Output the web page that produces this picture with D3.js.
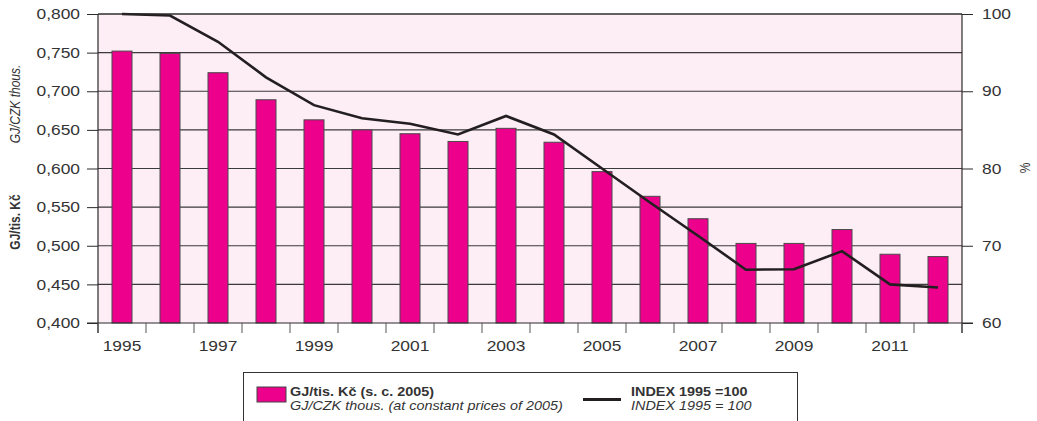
<!DOCTYPE html>
<html>
<head>
<meta charset="utf-8">
<script src="https://cdn.jsdelivr.net/npm/d3@7"></script>
<style>
  body { margin: 0; background: #fff; }
  svg { display: block; font-family: "Liberation Sans", Arial, sans-serif; }
</style>
</head>
<body>
<svg width="1037" height="421"></svg>
<script>
// data
var years = d3.range(1995, 2013);
var gjPerThous = [0.752, 0.749, 0.724, 0.689, 0.663, 0.650, 0.645, 0.635, 0.652,
                  0.634, 0.596, 0.564, 0.535, 0.503, 0.503, 0.521, 0.489, 0.486];
var index1995 = [100, 99.8, 96.4, 91.8, 88.2, 86.5, 85.8, 84.4, 86.8,
                 84.4, 80.0, 75.6, 71.3, 66.9, 66.95, 69.3, 65.0, 64.6];
var leftTicks = d3.range(0.4, 0.8001, 0.05);
var rightTicks = [60, 70, 80, 90, 100];

var pink = "#ec008c", bg = "#fdedf4", dark = "#2b2b2b", txt = "#333";
var sx = 1.2; // the picture is stretched sideways

var pLeft = 98, pRight = 962, pTop = 14, pBottom = 323;
var svg = d3.select("svg");

var x = d3.scaleBand().domain(years).range([pLeft, pRight]);
var y = d3.scaleLinear().domain([0.4, 0.8]).range([pBottom, pTop]);
var y2 = d3.scaleLinear().domain([60, 100]).range([pBottom, pTop]);

function stretch(sel) {
    sel.attr("transform", function () {
        var tx = +this.getAttribute("x") || 0;
        return "translate(" + tx + ",0) scale(" + sx + ",1)";
    }).attr("x", 0);
}

svg.append("rect")
    .attr("x", pLeft).attr("y", pTop)
    .attr("width", pRight - pLeft).attr("height", pBottom - pTop)
    .attr("fill", bg);

// gridlines
svg.append("g").selectAll("line")
    .data(leftTicks.slice(1))
    .enter().append("line")
    .attr("x1", pLeft).attr("x2", pRight)
    .attr("y1", function (d) { return y(d); })
    .attr("y2", function (d) { return y(d); })
    .attr("stroke", "#3a3a3a").attr("stroke-width", 1.2);

// bars
var bw = 20;
svg.append("g").selectAll("rect")
    .data(gjPerThous)
    .enter().append("rect")
    .attr("x", function (d, i) { return x(years[i]) + x.bandwidth() / 2 - bw / 2; })
    .attr("y", function (d) { return y(d); })
    .attr("width", bw)
    .attr("height", function (d) { return pBottom - y(d); })
    .attr("fill", pink)
    .attr("stroke", "#4a4a4a").attr("stroke-width", 1);

// index line
var line = d3.line()
    .x(function (d, i) { return x(years[i]) + x.bandwidth() / 2; })
    .y(function (d) { return y2(d); });
svg.append("path")
    .datum(index1995)
    .attr("fill", "none")
    .attr("stroke", "#231f20")
    .attr("stroke-width", 2.6)
    .attr("d", line);

// left axis
var gl = svg.append("g")
    .attr("transform", "translate(" + pLeft + ",0)")
    .call(d3.axisLeft(y).tickValues(leftTicks).tickSize(11).tickPadding(7)
        .tickFormat(function (d) { return d3.format(".3f")(d).replace(".", ","); }));
gl.select(".domain").remove();
gl.selectAll("line").attr("stroke", dark);
gl.selectAll("text").attr("font-size", 14.5).attr("fill", txt).call(stretch);
svg.append("line").attr("x1", pLeft).attr("x2", pLeft).attr("y1", pTop).attr("y2", pBottom + 10)
    .attr("stroke", dark).attr("stroke-width", 1.2);

// right axis
var gr = svg.append("g")
    .attr("transform", "translate(" + pRight + ",0)")
    .call(d3.axisRight(y2).tickValues(rightTicks).tickSize(11).tickPadding(9));
gr.select(".domain").remove();
gr.selectAll("line").attr("stroke", dark);
gr.selectAll("text").attr("font-size", 14.5).attr("fill", txt).call(stretch);
svg.append("line").attr("x1", pRight).attr("x2", pRight).attr("y1", pTop).attr("y2", pBottom + 10)
    .attr("stroke", dark).attr("stroke-width", 1.2);

// frame top and bottom axis
svg.append("line").attr("x1", pLeft - 11).attr("x2", pRight + 11).attr("y1", pBottom).attr("y2", pBottom)
    .attr("stroke", dark).attr("stroke-width", 1.2);
svg.append("line").attr("x1", pLeft).attr("x2", pRight).attr("y1", pTop).attr("y2", pTop)
    .attr("stroke", dark).attr("stroke-width", 1.2);
svg.append("g").selectAll("line")
    .data(years.concat([2013]))
    .enter().append("line")
    .attr("x1", function (d) { return d === 2013 ? pRight : x(d); })
    .attr("x2", function (d) { return d === 2013 ? pRight : x(d); })
    .attr("y1", pBottom).attr("y2", pBottom + 10)
    .attr("stroke", "#555");
var gb = svg.append("g")
    .attr("transform", "translate(0," + pBottom + ")")
    .call(d3.axisBottom(x).tickValues(years.filter(function (d) { return d % 2 === 1; }))
        .tickSize(0).tickPadding(18));
gb.select(".domain").remove();
gb.selectAll("text").attr("font-size", 14.5).attr("fill", txt).call(stretch);

// axis titles
function vtext(cx, cy, s, weight, style) {
    svg.append("text")
        .attr("transform", "translate(" + cx + "," + cy + ") rotate(-90) scale(1," + sx + ")")
        .attr("text-anchor", "middle").attr("dy", "0.35em")
        .attr("font-size", 12).attr("font-weight", weight).attr("font-style", style)
        .attr("fill", txt).text(s);
}
vtext(15, 222, "GJ/tis. Kč", "bold", "normal");
vtext(15, 104, "GJ/CZK thous.", "normal", "italic");
vtext(1025, 168, "%", "normal", "normal");

// legend
var lg = svg.append("g");
lg.append("rect").attr("x", 243.5).attr("y", 372.5).attr("width", 554).attr("height", 60)
    .attr("fill", "#fff").attr("stroke", "#333");
lg.append("rect").attr("x", 257).attr("y", 387).attr("width", 29).attr("height", 15)
    .attr("fill", pink).attr("stroke", "#444");
lg.append("line").attr("x1", 583).attr("x2", 621).attr("y1", 399.5).attr("y2", 399.5)
    .attr("stroke", "#231f20").attr("stroke-width", 3);
var legendText = [
    [290, 396, "GJ/tis. Kč (s. c. 2005)", "bold", "normal"],
    [290, 410, "GJ/CZK thous. (at constant prices of 2005)", "normal", "italic"],
    [631, 396, "INDEX 1995 =100", "bold", "normal"],
    [631, 410, "INDEX 1995 = 100", "normal", "italic"]
];
lg.selectAll("text.lt")
    .data(legendText)
    .enter().append("text")
    .attr("class", "lt")
    .attr("transform", function (d) { return "translate(" + d[0] + "," + d[1] + ") scale(" + sx + ",1)"; })
    .attr("font-size", 12)
    .attr("font-weight", function (d) { return d[3]; })
    .attr("font-style", function (d) { return d[4]; })
    .attr("fill", txt)
    .text(function (d) { return d[2]; });
</script>
</body>
</html>
